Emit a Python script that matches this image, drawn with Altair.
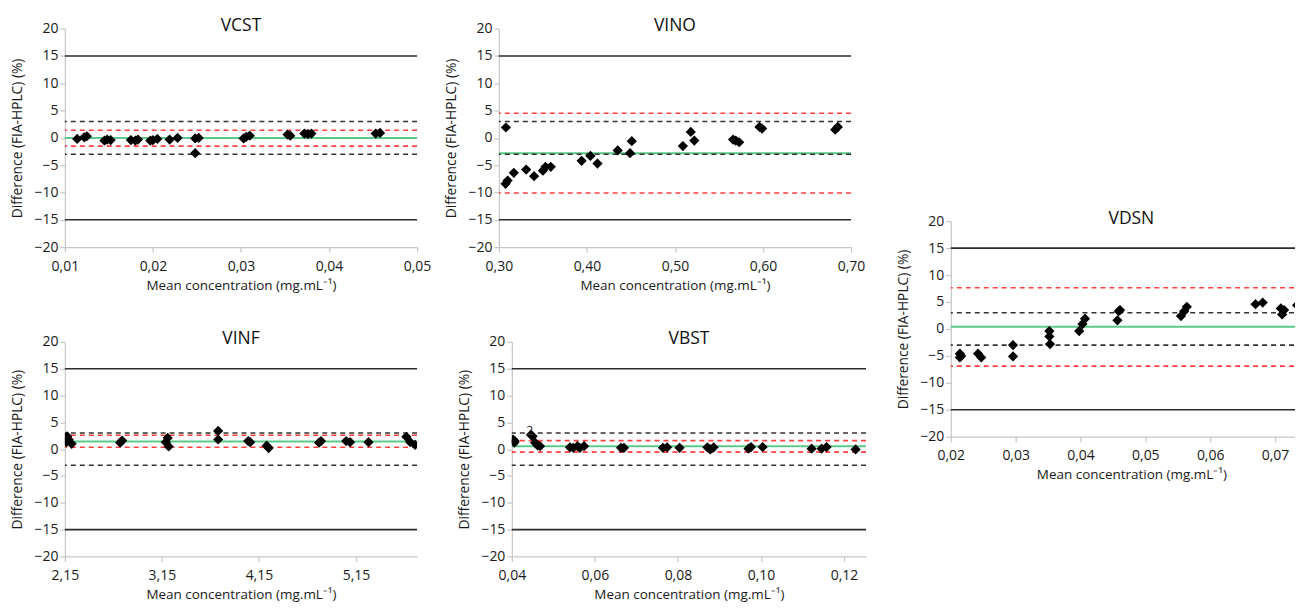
import altair as alt
import pandas as pd

FONT = "Open Sans"

# ---------------- data ----------------
vcst_x = [0.0114, 0.0122, 0.0125, 0.0145, 0.0148, 0.0152, 0.0175, 0.0180, 0.0183,
          0.0197, 0.0200, 0.0205, 0.0219, 0.0228, 0.0248, 0.0252, 0.0248, 0.0303,
          0.0306, 0.0310, 0.0353, 0.0356, 0.0372, 0.0376, 0.0380, 0.0453, 0.0458]
vcst_y = [-0.2, 0.1, 0.3, -0.5, -0.3, -0.4, -0.4, -0.5, -0.3,
          -0.5, -0.4, -0.2, -0.3, 0.0, -0.1, 0.0, -2.8, -0.1,
          0.2, 0.4, 0.6, 0.4, 0.8, 0.7, 0.8, 0.8, 0.9]
vcst_bias = [0.0]
vcst_loa = [-1.5, 1.4]

vino_x = [0.308, 0.3076, 0.310, 0.317, 0.331, 0.340, 0.350, 0.353, 0.359, 0.394,
          0.404, 0.412, 0.435, 0.449, 0.451, 0.509, 0.518, 0.522, 0.566, 0.569,
          0.573, 0.596, 0.599, 0.682, 0.685]
vino_y = [1.9, -8.4, -7.8, -6.4, -5.8, -7.0, -6.0, -5.3, -5.3, -4.2,
          -3.3, -4.7, -2.3, -2.8, -0.6, -1.5, 1.1, -0.5, -0.3, -0.5,
          -0.8, 2.0, 1.7, 1.5, 2.0]
vino_bias = [-2.8]
vino_loa = [-10.1, 4.5]

vdsn_x = [0.0214, 0.0214, 0.0216, 0.0242, 0.0247, 0.0296, 0.0296, 0.0352, 0.0352,
          0.0353, 0.0398, 0.0403, 0.0407, 0.0459, 0.0457, 0.0461, 0.0555, 0.0560,
          0.0564, 0.0670, 0.0681, 0.0709, 0.0711, 0.0714, 0.0734, 0.0741]
vdsn_y = [-4.6, -5.3, -5.0, -4.6, -5.3, -3.0, -5.1, -0.4, -1.4,
          -2.8, -0.4, 0.9, 1.9, 3.3, 1.6, 3.5, 2.4, 3.3,
          4.1, 4.6, 4.9, 3.8, 2.7, 3.5, 4.4, 4.1]
vdsn_bias = [0.4]
vdsn_loa = [-6.9, 7.65]

vinf_x = [2.167, 2.174, 2.19, 2.22, 2.72, 2.74, 3.21, 3.19, 3.22, 3.73, 3.73,
          4.04, 4.06, 4.23, 4.25, 4.77, 4.79, 5.05, 5.09, 5.28, 5.67, 5.71, 5.76]
vinf_y = [1.3, 2.4, 1.8, 1.0, 1.2, 1.6, 2.1, 1.3, 0.5, 3.4, 1.8,
          1.5, 1.3, 0.65, 0.2, 1.2, 1.5, 1.5, 1.3, 1.3, 2.3, 1.3, 0.8]
vinf_bias = [1.45]
vinf_loa = [0.35, 2.6]

vbst_x = [0.0403, 0.0406, 0.0407, 0.0446, 0.0450, 0.0456, 0.0462, 0.0468, 0.0540,
          0.0548, 0.0558, 0.0564, 0.0574, 0.0663, 0.0670, 0.0764, 0.0774, 0.0804,
          0.0871, 0.0878, 0.0886, 0.0970, 0.0976, 0.1004, 0.1122, 0.1146, 0.1158,
          0.1228]
vbst_y = [1.8, 1.2, 1.5, 2.7, 2.4, 1.2, 0.7, 0.55, 0.35,
          0.25, 0.55, 0.25, 0.55, 0.25, 0.25, 0.25, 0.35, 0.25,
          0.35, -0.05, 0.35, 0.1, 0.4, 0.4, 0.1, 0.1, 0.4,
          -0.05]
vbst_bias = [0.55]
vbst_loa = [-0.55, 1.6]
vbst_note_x = [0.0443]
vbst_note_y = [3.4]
vbst_note = ["2"]

accept_limits = [-15, 15]     # solid black
ref_limits = [-3, 3]          # dashed black
y_ticks = [-20, -15, -10, -5, 0, 5, 10, 15, 20]

XTITLE = "Mean concentration (mg.mL\u207b\u00b9)"
YTITLE = "Difference (FIA-HPLC) (%)"


def panel(name, xs, ys, bias, loa, xdom, xticks, decimals, width, height, extra=None):
    xscale = alt.Scale(domain=xdom, nice=False, zero=False)
    yscale = alt.Scale(domain=[-20, 20], nice=False, zero=False)
    xaxis = alt.Axis(values=xticks, title=XTITLE, labelFlush=False,
                     labelExpr=f"replace(format(datum.value, '.{decimals}f'), '.', ',')")
    yaxis = alt.Axis(values=y_ticks, title=YTITLE, labelFlush=False)
    yenc = alt.Y("y:Q", scale=yscale, axis=yaxis)

    green = alt.Chart(pd.DataFrame({"y": bias})).mark_rule(
        color="#5cc98a", strokeWidth=2).encode(y=yenc)
    bdash = alt.Chart(pd.DataFrame({"y": ref_limits})).mark_rule(
        color="#333333", strokeWidth=1.6, strokeDash=[5, 4]).encode(y=yenc)
    rdash = alt.Chart(pd.DataFrame({"y": loa})).mark_rule(
        color="#ff4040", strokeWidth=1.6, strokeDash=[5, 4]).encode(y=yenc)
    solid = alt.Chart(pd.DataFrame({"y": accept_limits})).mark_rule(
        color="#2b2b2b", strokeWidth=1.6).encode(y=yenc)
    pts = alt.Chart(pd.DataFrame({"x": xs, "y": ys})).mark_point(
        shape="diamond", filled=True, size=105, color="#000000", opacity=1,
        clip=True).encode(x=alt.X("x:Q", scale=xscale, axis=xaxis), y=yenc)
    layers = [green, bdash, rdash, solid, pts]
    if extra is not None:
        ex, ey, et = extra
        layers.append(alt.Chart(pd.DataFrame({"x": ex, "y": ey, "t": et})).mark_text(
            font=FONT, fontSize=13, color="#333333").encode(
            x=alt.X("x:Q", scale=xscale, axis=xaxis), y=yenc, text="t:N"))
    return alt.layer(*layers).properties(
        width=width, height=height,
        title=alt.TitleParams(text=name, font=FONT, fontSize=17.5, fontWeight="normal",
                              color="#111111", anchor="middle", frame="group", offset=-13),
    )


vcst = panel("VCST", vcst_x, vcst_y, vcst_bias, vcst_loa, [0.01, 0.05],
             [0.01, 0.02, 0.03, 0.04, 0.05], 2, 353, 219)
vino = panel("VINO", vino_x, vino_y, vino_bias, vino_loa, [0.30, 0.70],
             [0.30, 0.40, 0.50, 0.60, 0.70], 2, 353, 219)
vinf = panel("VINF", vinf_x, vinf_y, vinf_bias, vinf_loa, [2.15, 5.78],
             [2.15, 3.15, 4.15, 5.15], 2, 353, 215)
vbst = panel("VBST", vbst_x, vbst_y, vbst_bias, vbst_loa, [0.04, 0.1253],
             [0.04, 0.06, 0.08, 0.10, 0.12], 2, 355, 215,
             extra=(vbst_note_x, vbst_note_y, vbst_note))
vdsn = panel("VDSN", vdsn_x, vdsn_y, vdsn_bias, vdsn_loa, [0.02, 0.0757],
             [0.02, 0.03, 0.04, 0.05, 0.06, 0.07], 2, 362, 216)

spacer = alt.Chart(pd.DataFrame({"y": [0]})).mark_point(opacity=0, size=1).encode(
    x=alt.X("y:Q", axis=None), y=alt.Y("y:Q", axis=None)).properties(width=1, height=1)

top_row = alt.hconcat(vcst, vino, spacing=82, bounds="flush")
bottom_row = alt.hconcat(vinf, vbst, spacing=95, bounds="flush")
left_block = alt.vconcat(top_row, bottom_row, spacing=38)
right_block = alt.vconcat(spacer, vdsn, spacing=192, bounds="flush")

chart = alt.hconcat(left_block, right_block, spacing=29).properties(
    padding={"left": 2, "top": 8, "right": -18, "bottom": 0},
    background="white",
).configure_view(stroke=None).configure_axis(
    grid=False,
    domainColor="#c6c6c6", domainWidth=1.2,
    tickColor="#c6c6c6", tickSize=5, tickWidth=1.2,
    labelFont=FONT, labelFontSize=14, labelColor="#1a1a1a",
    titleFont=FONT, titleFontSize=13.5, titleFontWeight="normal", titleColor="#1a1a1a",
).configure_axisY(titlePadding=9, labelPadding=2, titleFontSize=13.8).configure_axisX(
    titlePadding=5, labelPadding=7)

chart.save("out.html", embed_options={"renderer": "svg", "actions": False})
